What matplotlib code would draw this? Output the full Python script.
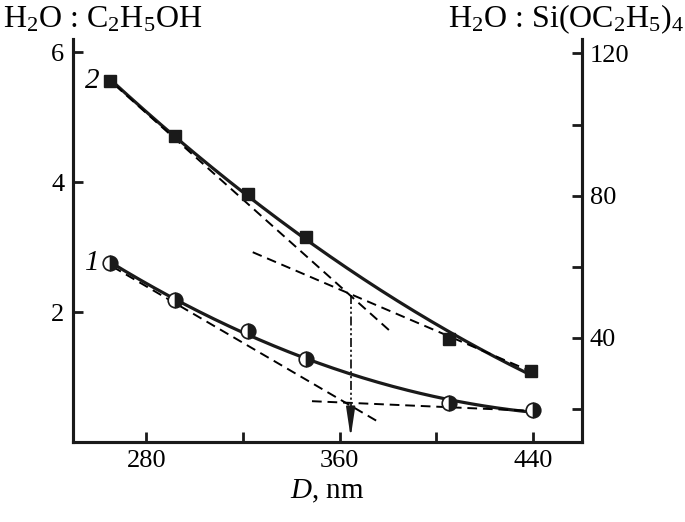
import numpy as np
import matplotlib.pyplot as plt

plt.rcParams['font.family'] = 'Liberation Serif'
plt.rcParams['mathtext.fontset'] = 'custom'
plt.rcParams['mathtext.rm'] = 'Liberation Serif'
plt.rcParams['mathtext.it'] = 'Liberation Serif:italic'

# particle size D, nm
d1 = [265, 292, 322, 346, 405, 440]
d2 = [265, 292, 322, 346, 405, 439]
# curve 1, H2O : C2H5OH (left axis)
r1 = [2.76, 2.18, 1.71, 1.28, 0.60, 0.49]
# curve 2, H2O : Si(OC2H5)4 (right axis)
r2 = [112.1, 96.9, 80.4, 68.3, 39.8, 30.7]

# tangent lines (end points)
t1a_x = [266, 376.5]; t1a_y = [2.70, 0.30]
t1b_x = [348.5, 440]; t1b_y = [0.63, 0.48]
t2a_x = [267, 382]; t2a_y = [111.1, 41.2]
t2b_x = [324, 438]; t2b_y = [64.1, 30.9]
d_cross = 364.5
y_cross = 2.27

fig = plt.figure(figsize=(6.85, 5.22), dpi=100)
ax = fig.add_axes([0.106, 0.153, 0.743, 0.772])
ax2 = ax.twinx()

ax.set_xlim(249.5, 460)
ax.set_ylim(0, 6.2)
ax2.set_ylim(10.7, 124)

# smooth curves through the points
c1 = np.polyfit(d1, r1, 2)
xs1 = np.linspace(d1[0], d1[-1], 200)
ax.plot(xs1, np.polyval(c1, xs1), color='#1a1a1a', lw=2.3)
c2 = np.polyfit(d2, r2, 2)
xs2 = np.linspace(d2[0], d2[-1], 200)
ax2.plot(xs2, np.polyval(c2, xs2), color='#1a1a1a', lw=2.3)

ax.plot(t1a_x, t1a_y, 'k--', lw=1.4, dashes=(5, 3))
ax.plot(t1b_x, t1b_y, 'k--', lw=1.4, dashes=(5, 3))
ax2.plot(t2a_x, t2a_y, 'k--', lw=1.4, dashes=(5, 3))
ax2.plot(t2b_x, t2b_y, 'k--', lw=1.4, dashes=(5, 3))

ax.plot(d1, r1, 'o', ms=10.5, fillstyle='right', markerfacecolor='#1a1a1a',
        markerfacecoloralt='white', markeredgecolor='#1a1a1a', mew=1.2, zorder=5)
ax2.plot(d2, r2, 's', ms=8, color='#1a1a1a', zorder=5)

ax.plot([d_cross, d_cross], [y_cross, 0.3], color='#1a1a1a', lw=1.3,
        dashes=(5, 1.5, 1.2, 1.5, 1.2, 1.5))
ax.annotate('', xy=(d_cross, 0.03), xytext=(d_cross, 0.4),
            arrowprops=dict(arrowstyle='-|>,head_length=1.0,head_width=0.15',
                            color='#1a1a1a', lw=1.3, mutation_scale=18))

ax.text(260.5, 2.76, '1', fontsize=21, style='italic', ha='right', va='center')
ax.text(260.5, 5.55, '2', fontsize=21, style='italic', ha='right', va='center')

ax.set_xticks([280, 360, 440])
ax.set_xticks([320, 400], minor=True)
ax.set_yticks([2, 4, 6])
ax2.set_yticks([40, 80, 120])
ax2.set_yticks([20, 60, 100], minor=True)

for a in (ax, ax2):
    a.spines['top'].set_visible(False)
    for s in a.spines.values():
        s.set_linewidth(2.2)
        s.set_color('#1a1a1a')
    a.tick_params(which='both', direction='in', length=7, width=2,
                  labelsize=19, color='#1a1a1a', pad=6)
ax.tick_params(right=False)

ax.set_xlabel('$\\mathit{D}$, nm', fontsize=21, labelpad=4)
fig.text(0.005, 0.963, 'H$_2$O : C$_2$H$_5$OH', fontsize=23, ha='left', va='center')
fig.text(0.999, 0.963, 'H$_2$O : Si(OC$_2$H$_5$)$_4$', fontsize=23, ha='right', va='center')

plt.savefig('out.png', dpi=100)
